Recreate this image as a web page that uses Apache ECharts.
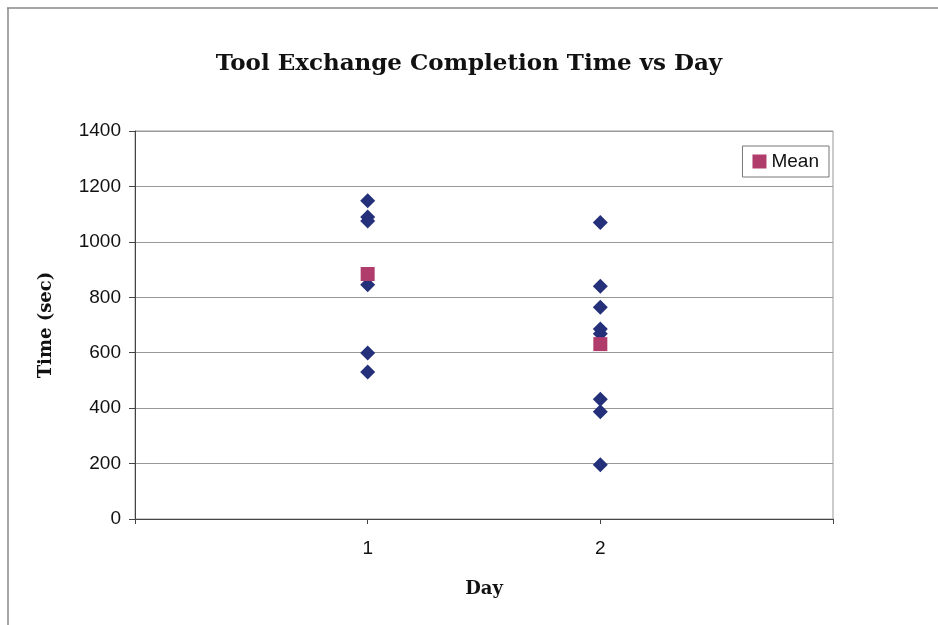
<!DOCTYPE html>
<html>
<head>
<meta charset="UTF-8">
<title>Tool Exchange Completion Time vs Day</title>
<script src="https://cdn.jsdelivr.net/npm/echarts@6/dist/echarts.min.js"></script>
<style>
  html, body { margin: 0; padding: 0; background: #fff; }
</style>
</head>
<body>
<div id="main" style="width: 938px;height:625px;"></div>
<script type="text/javascript">
// data
var dayTicks = [1, 2];
var day1Times = [1148, 1090, 1075, 845, 599, 530];
var day2Times = [1070, 840, 764, 686, 668, 432, 387, 196];
var meanDays = [1, 2];
var meanTimes = [884, 631];

var trials = [];
day1Times.forEach(function (t) { trials.push([1, t]); });
day2Times.forEach(function (t) { trials.push([2, t]); });
var means = meanDays.map(function (d, i) { return [d, meanTimes[i]]; });

var myChart = echarts.init(document.getElementById('main'));
var serif = 'DejaVu Serif';
var sans = 'Liberation Sans';

var option = {
    backgroundColor: '#fff',
    animation: false,
    title: {
        text: 'Tool Exchange Completion Time vs Day',
        left: 'center',
        top: 48,
        textStyle: { fontFamily: serif, fontWeight: 'bold', fontSize: 23, color: '#111' }
    },
    legend: {
        data: ['Mean'],
        right: 109,
        top: 146,
        orient: 'vertical',
        itemWidth: 14,
        itemHeight: 14,
        itemGap: 4,
        padding: [6, 10, 6, 10],
        borderColor: '#777',
        borderWidth: 1,
        borderRadius: 0,
        backgroundColor: '#fff',
        textStyle: { fontFamily: sans, fontSize: 19, color: '#111' }
    },
    grid: {
        left: 135,
        right: 105,
        top: 131,
        bottom: 106,
        show: true,
        borderColor: '#999',
        borderWidth: 1
    },
    xAxis: {
        type: 'value',
        min: 0,
        max: 3,
        interval: 1,
        name: 'Day',
        nameLocation: 'middle',
        nameGap: 61,
        nameTextStyle: { fontFamily: serif, fontWeight: 'bold', fontSize: 18, color: '#111' },
        axisLine: { lineStyle: { color: '#444' } },
        axisTick: { show: true, inside: false, length: 5, lineStyle: { color: '#444' } },
        splitLine: { show: false },
        axisLabel: {
            margin: 20,
            fontFamily: sans, fontSize: 19, color: '#111',
            formatter: function (v) { return dayTicks.indexOf(v) >= 0 ? String(v) : ''; }
        }
    },
    yAxis: {
        type: 'value',
        min: 0,
        max: 1400,
        interval: 200,
        name: 'Time (sec)',
        nameLocation: 'middle',
        nameGap: 80,
        nameRotate: 90,
        nameTextStyle: { fontFamily: serif, fontWeight: 'bold', fontSize: 18, color: '#111' },
        axisLine: { show: true, lineStyle: { color: '#444' } },
        axisTick: { show: true, length: 6, lineStyle: { color: '#444' } },
        splitLine: { show: true, lineStyle: { color: '#999', width: 1 } },
        axisLabel: {
            margin: 14, fontFamily: sans, fontSize: 19, color: '#111',
            formatter: function (v) { return String(v); }
        }
    },
    series: [
        {
            name: 'Trial',
            type: 'scatter',
            symbol: 'diamond',
            symbolSize: [15, 15],
            itemStyle: { color: '#25307a', opacity: 1 },
            data: trials,
            z: 2
        },
        {
            name: 'Mean',
            type: 'scatter',
            symbol: 'rect',
            symbolSize: [14, 14],
            itemStyle: { color: '#b03c6c', opacity: 1 },
            data: means,
            z: 3
        }
    ],
    graphic: [
        { type: 'line', shape: { x1: 7, y1: 8, x2: 938, y2: 8 }, style: { stroke: '#888', lineWidth: 1.5 } },
        { type: 'line', shape: { x1: 8, y1: 8, x2: 8, y2: 625 }, style: { stroke: '#888', lineWidth: 1.5 } }
    ]
};

myChart.setOption(option);
</script>
</body>
</html>
